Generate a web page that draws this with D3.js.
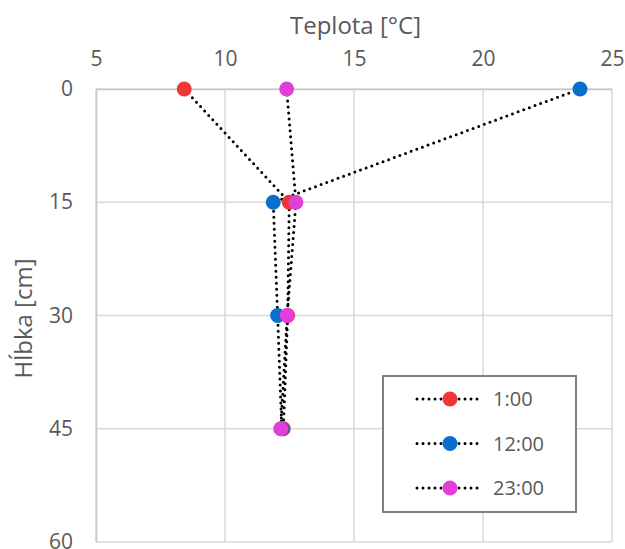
<!DOCTYPE html>
<html>
<head>
<meta charset="utf-8">
<script src="https://cdn.jsdelivr.net/npm/d3@7/dist/d3.min.js"></script>
<style>
  html, body { margin: 0; padding: 0; background: #fff; }
  svg text { font-family: "Open Sans", "Noto Sans", sans-serif; fill: #595959; }
</style>
</head>
<body>
<svg id="chart" width="625" height="549"></svg>
<script>
// Depth profile of temperature at three times of day
const depths = [0, 15, 30, 45];
const temp1 = [8.42, 12.49, 12.43, 12.26];
const temp12 = [23.76, 11.87, 12.04, 12.2];
const temp23 = [12.39, 12.75, 12.41, 12.16];
const seriesNames = ["1:00", "12:00", "23:00"];
const seriesColors = ["#f03535", "#0a6fcc", "#e23fd8"];
const xTicks = [5, 10, 15, 20, 25];
const yTicks = [0, 15, 30, 45, 60];

const series = [temp1, temp12, temp23].map((vals, i) => ({
  name: seriesNames[i],
  color: seriesColors[i],
  points: vals.map((t, j) => ({ t, d: depths[j] }))
}));

const svg = d3.select("#chart");
const m = { left: 96, right: 612, top: 89, bottom: 542 };

const x = d3.scaleLinear().domain([5, 25]).range([m.left, m.right]);
const y = d3.scaleLinear().domain([0, 60]).range([m.top, m.bottom]);

// gridlines
const grid = svg.append("g");
grid.selectAll("line.v").data(xTicks).join("line")
  .attr("x1", d => x(d)).attr("x2", d => x(d))
  .attr("y1", m.top).attr("y2", m.bottom)
  .attr("stroke", "#d9d9d9").attr("stroke-width", 1.5);
grid.selectAll("line.h").data(yTicks).join("line")
  .attr("x1", m.left).attr("x2", m.right)
  .attr("y1", d => y(d)).attr("y2", d => y(d))
  .attr("stroke", "#d9d9d9").attr("stroke-width", 1.5);

// axes (top x, left y)
const xAxis = svg.append("g").attr("transform", `translate(0,${m.top})`)
  .call(d3.axisTop(x).tickValues(xTicks).tickSize(0).tickPadding(23));
const yAxis = svg.append("g").attr("transform", `translate(${m.left},0)`)
  .call(d3.axisLeft(y).tickValues(yTicks).tickSize(0).tickPadding(23));
[xAxis, yAxis].forEach(a => {
  a.select(".domain").attr("stroke", "#c8c8c8").attr("stroke-width", 1.5);
  a.selectAll("text").style("font-size", "21px").attr("fill", "#595959");
});

// axis titles
svg.append("text").attr("x", 355.5).attr("y", 34)
  .attr("text-anchor", "middle").style("font-size", "24px").text("Teplota [°C]");
svg.append("text").attr("transform", "translate(32,318.5) rotate(-90)")
  .attr("text-anchor", "middle").style("font-size", "24px").text("Hĺbka [cm]");

// dotted lines
const line = d3.line().x(p => x(p.t)).y(p => y(p.d));
svg.append("g").selectAll("path").data(series).join("path")
  .attr("d", s => line(s.points))
  .attr("fill", "none").attr("stroke", "#000")
  .attr("stroke-width", 3).attr("stroke-linecap", "round")
  .attr("stroke-dasharray", "0,6");

// markers
series.forEach(s => {
  svg.append("g").selectAll("circle").data(s.points).join("circle")
    .attr("cx", p => x(p.t)).attr("cy", p => y(p.d))
    .attr("r", 7.5).attr("fill", s.color);
});

// legend
const lg = svg.append("g");
lg.append("rect").attr("x", 383).attr("y", 376).attr("width", 193).attr("height", 136)
  .attr("fill", "#fff").attr("stroke", "#7f7f7f").attr("stroke-width", 2);
series.forEach((s, i) => {
  const cy = 399 + i * 44.5;
  lg.append("line").attr("x1", 417).attr("x2", 481).attr("y1", cy).attr("y2", cy)
    .attr("stroke", "#000").attr("stroke-width", 3)
    .attr("stroke-linecap", "round").attr("stroke-dasharray", "0,6");
  lg.append("circle").attr("cx", 450).attr("cy", cy).attr("r", 7.5).attr("fill", s.color);
  lg.append("text").attr("x", 493).attr("y", cy).attr("dy", "0.36em")
    .style("font-size", "20px").text(s.name);
});
</script>
</body>
</html>
